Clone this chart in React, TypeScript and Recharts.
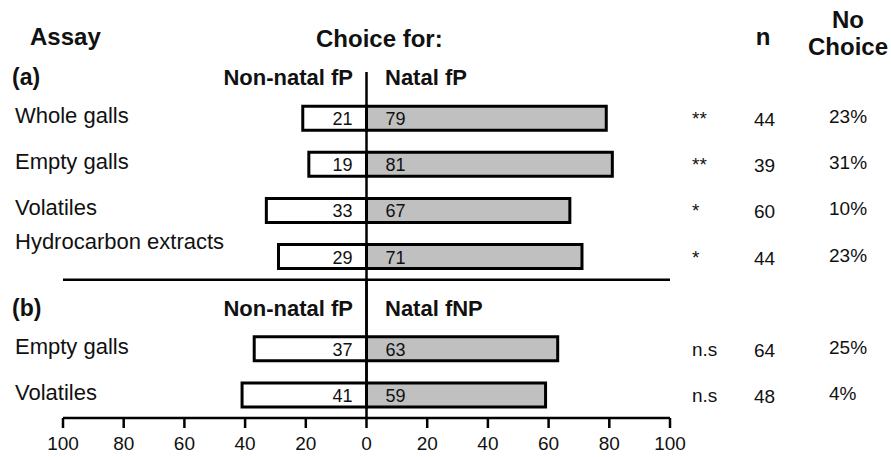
import { BarChart, Bar, XAxis, YAxis, ReferenceLine, LabelList } from 'recharts';

// rows of the figure, top to bottom; '(a)' and '(b)' are group header rows
const rowKeys = ['a', 'a1', 'a2', 'a3', 'a4', 'b', 'b1', 'b2'];
const rowLabels = ['(a)', 'Whole galls', 'Empty galls', 'Volatiles', 'Hydrocarbon extracts', '(b)', 'Empty galls', 'Volatiles'];
const nonNatal = [null, 21, 19, 33, 29, null, 37, 41];
const natal = [null, 79, 81, 67, 71, null, 63, 59];
const significance = ['', '**', '**', '*', '*', '', 'n.s', 'n.s'];
const sampleSize = ['', '44', '39', '60', '44', '', '64', '48'];
const noChoice = ['', '23%', '31%', '10%', '23%', '', '25%', '4%'];
const groupHeaders: Record<string, [string, string]> = {
  a: ['Non-natal fP', 'Natal fP'],
  b: ['Non-natal fP', 'Natal fNP'],
};
const xTicks = [-100, -80, -60, -40, -20, 0, 20, 40, 60, 80, 100];

const data = rowKeys.map((key, i) => ({
  key,
  nonNatal: nonNatal[i] == null ? null : -(nonNatal[i] as number),
  natal: natal[i],
}));

const FONT = '"Liberation Sans", Arial, sans-serif';
const INK = '#111';
const GREY = '#c0c0c0';

function LeftTick({ y, payload }: any) {
  const i = rowKeys.indexOf(payload.value);
  const label = rowLabels[i];
  const header = groupHeaders[payload.value];
  if (header) {
    return (
      <g fontWeight="bold" fill={INK}>
        <text x={12} y={y + 13} fontSize={23}>{label}</text>
        <text x={353} y={y + 13} fontSize={22} textAnchor="end">{header[0]}</text>
        <text x={385} y={y + 13} fontSize={22}>{header[1]}</text>
      </g>
    );
  }
  // the long hydrocarbon label sits a bit above its bar
  const dy = payload.value === 'a4' ? -8 : 5;
  return (
    <text x={15} y={y + dy} fontSize={22} fill={INK}>{label}</text>
  );
}

function RightTick({ y, payload }: any) {
  const i = rowKeys.indexOf(payload.value);
  return (
    <g fontSize={19} fill={INK}>
      <text x={692} y={y + 7}>{significance[i]}</text>
      <text x={754} y={y + 8}>{sampleSize[i]}</text>
      <text x={829} y={y + 5}>{noChoice[i]}</text>
    </g>
  );
}

function LeftValue({ x, y, width, height, value }: any) {
  if (!value) return null;
  const right = Math.max(x, x + width);
  return (
    <text x={right - 14} y={y + height / 2 + 7} textAnchor="end" fontSize={18} fill={INK}>
      {Math.abs(value)}
    </text>
  );
}

function RightValue({ x, y, width, height, value }: any) {
  if (!value) return null;
  const left = Math.min(x, x + width);
  return (
    <text x={left + 19} y={y + height / 2 + 7} fontSize={18} fill={INK}>
      {value}
    </text>
  );
}

export default function App() {
  return (
    <div style={{ position: 'absolute', left: 0, top: 0, width: 891, height: 457, background: '#fff', fontFamily: FONT }}>
      <BarChart
        width={891}
        height={457}
        data={data}
        layout="vertical"
        stackOffset="sign"
        margin={{ top: 49, right: 0, bottom: 0, left: 0 }}
      >
        <XAxis
          type="number"
          domain={[-100, 100]}
          ticks={xTicks}
          tickFormatter={(v: number) => String(Math.abs(v))}
          axisLine={{ stroke: '#000', strokeWidth: 2.5 }}
          tickLine={{ stroke: '#000', strokeWidth: 2.5 }}
          tickSize={10}
          tickMargin={9}
          tick={{ fontSize: 19, fill: INK }}
          height={39}
        />
        <YAxis
          yAxisId="left"
          type="category"
          dataKey="key"
          width={63}
          interval={0}
          axisLine={false}
          tickLine={false}
          tick={<LeftTick />}
        />
        <YAxis
          yAxisId="right"
          orientation="right"
          type="category"
          dataKey="key"
          width={221}
          interval={0}
          axisLine={false}
          tickLine={false}
          tick={<RightTick />}
        />
        <Bar
          yAxisId="left"
          dataKey="nonNatal"
          stackId="s"
          fill="#fff"
          stroke="#000"
          strokeWidth={3}
          barSize={24}
          isAnimationActive={false}
        >
          <LabelList dataKey="nonNatal" content={<LeftValue />} />
        </Bar>
        <Bar
          yAxisId="left"
          dataKey="natal"
          stackId="s"
          fill={GREY}
          stroke="#000"
          strokeWidth={3}
          barSize={24}
          isAnimationActive={false}
        >
          <LabelList dataKey="natal" content={<RightValue />} />
        </Bar>
        <ReferenceLine
          yAxisId="left"
          segment={[{ x: 0, y: 'a' }, { x: 0, y: 'b2' }]}
          stroke="#000"
          strokeWidth={2.5}
        />
        <ReferenceLine
          yAxisId="left"
          segment={[{ x: 0, y: 'a4' }, { x: 0, y: 'b2' }]}
          position="end"
          stroke="#000"
          strokeWidth={2.5}
        />
        <ReferenceLine
          yAxisId="left"
          segment={[{ x: -100, y: 'a4' }, { x: 100, y: 'a4' }]}
          position="end"
          stroke="#000"
          strokeWidth={2.5}
        />
        <g fontWeight="bold" fontSize={24} fill={INK}>
          <text x={30} y={45}>Assay</text>
          <text x={316} y={47}>Choice for:</text>
          <text x={763} y={45} textAnchor="middle">n</text>
          <text x={848} y={28} textAnchor="middle">No</text>
          <text x={848} y={55} textAnchor="middle">Choice</text>
        </g>
      </BarChart>
    </div>
  );
}
